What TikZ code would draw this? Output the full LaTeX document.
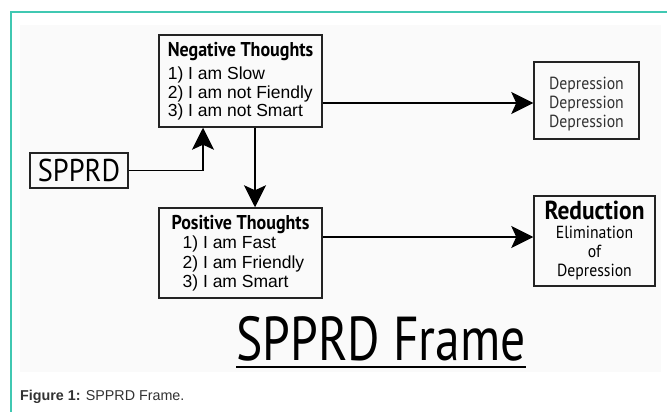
\documentclass[tikz,border=0pt]{standalone}
\usepackage{fontspec}
\setmainfont{Liberation Sans}
\newfontfamily\myriad[FakeStretch=0.9]{PT Sans}
\newfontfamily\myriadnarrow[FakeStretch=0.8]{PT Sans}
\usetikzlibrary{arrows.meta}

\definecolor{frameteal}{RGB}{64,200,178}
\definecolor{boxline}{RGB}{35,35,35}
\definecolor{softtext}{RGB}{50,50,50}
\definecolor{panel}{RGB}{250,250,250}

\tikzset{
  box/.style={draw=boxline, line width=1.5pt, inner sep=0pt},
  flow/.style={line width=1.4pt, -{Stealth[length=22pt,width=22pt,inset=5pt]}},
}

\begin{document}
\begin{tikzpicture}[x=1pt, y=-1pt]
  \useasboundingbox (0,0) rectangle (667,412);
  \fill[white] (0,0) rectangle (667,412);
  \fill[panel] (20,25) rectangle (661,372);
  \draw[frameteal, line width=2pt] (10.5,412) -- (10.5,12.5) -- (667,12.5);

  % the boxes
  \node[box, minimum width=98pt, minimum height=35pt,
        font=\myriad\fontsize{31.5}{33}\selectfont] (sp) at (79,170.5) {SPPRD};
  \node[box, minimum width=163pt, minimum height=92pt, align=left,
        font=\fontsize{17.5}{18.5}\selectfont] (neg) at (240.5,81)
    {{\myriad\bfseries\fontsize{20}{20}\selectfont Negative Thoughts}\\[5pt]
     1) I am Slow\\ 2) I am not Fiendly\\ 3) I am not Smart};
  \node[box, minimum width=163pt, minimum height=90pt, align=left,
        font=\fontsize{17.5}{19.5}\selectfont] (pos) at (240.5,253)
    {{\myriad\bfseries\fontsize{20}{20}\selectfont Positive Thoughts}\\
     \hspace*{11pt}1) I am Fast\\ \hspace*{11pt}2) I am Friendly\\ \hspace*{11pt}3) I am Smart};
  \node[box, minimum width=105pt, minimum height=77pt, align=center, text=softtext,
        font=\myriad\fontsize{17.5}{19}\selectfont] (dep) at (586.5,100.5)
    {\rule{0pt}{20pt}Depression\\ Depression\\ Depression};
  \node[box, minimum width=121pt, minimum height=90pt, align=center,
        font=\myriad\fontsize{17.5}{19}\selectfont] (red) at (594.5,241)
    {{\bfseries\fontsize{26}{22}\selectfont Reduction}\\ Elimination\\ of\\ Depression};

  % connectors
  \draw[flow] (sp.east) -| ([xshift=-37.5pt]neg.south);
  \draw[flow] ([xshift=14.5pt]neg.south) -- ([xshift=14.5pt]pos.north);
  \draw[flow] ([yshift=-22pt]neg.east) -- ([yshift=-22pt]neg.east -| dep.west);
  \draw[flow] ([yshift=16pt]pos.east) -- ([yshift=16pt]pos.east -| red.west);

  % heading and caption
  \node[anchor=base, inner sep=0pt, font=\myriadnarrow\fontsize{62}{64}\selectfont]
    (title) at (381,360) {SPPRD Frame};
  \draw[line width=2.2pt] ([yshift=-7pt]title.base west) -- ([yshift=-7pt]title.base east);
  \node[anchor=base west, inner sep=0pt, text=softtext, font=\fontsize{14.3}{16}\selectfont]
    (caption) at (20,400) {\textbf{Figure 1:} SPPRD Frame.};
\end{tikzpicture}
\end{document}
